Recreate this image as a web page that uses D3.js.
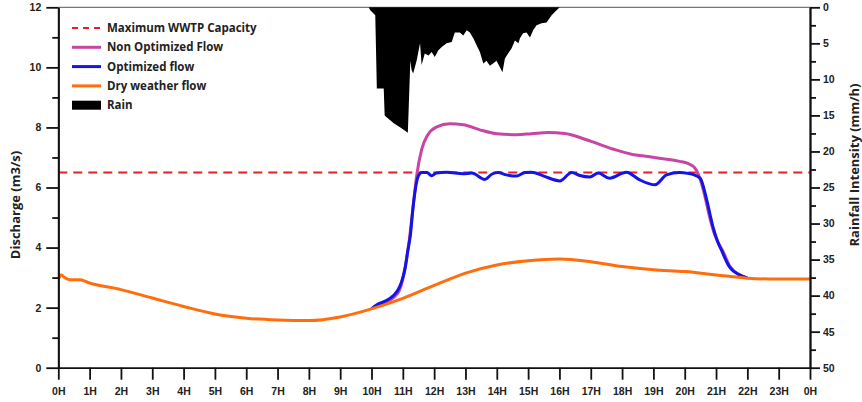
<!DOCTYPE html>
<html>
<head>
<meta charset="utf-8">
<script src="https://cdn.jsdelivr.net/npm/d3@7"></script>
<style>
  body { margin: 0; background: #fff; }
  .tick text { font-family: "Liberation Sans", Arial, sans-serif; font-weight: bold; font-size: 10.5px; fill: #222; }
  .axis path, .axis line { stroke: #111; stroke-width: 1.8px; }
  .title { font-family: "Open Sans", sans-serif; font-weight: bold; font-size: 13px; fill: #222; }
  .legend text { font-family: "Open Sans", sans-serif; font-weight: bold; font-size: 11.5px; fill: #222; }
</style>
</head>
<body>
<div id="chart"></div>
<script>
// Dry weather flow (m3/s) by hour
const dryHours = [0, 0.1, 0.2, 0.37, 0.69, 1, 2, 3, 4, 5, 6, 7, 8, 9, 10, 11, 12, 13, 14, 15, 16, 17, 18, 19, 20, 21, 22, 23, 24];
const dryFlow = [2.95, 3.09, 3.0, 2.93, 2.93, 2.82, 2.6, 2.32, 2.04, 1.79, 1.65, 1.59, 1.57, 1.69, 1.96, 2.31, 2.74, 3.15, 3.42, 3.56, 3.62, 3.53, 3.37, 3.26, 3.2, 3.09, 2.98, 2.95, 2.95];

// Optimized flow
const optHours = [10, 10.16, 10.4, 10.7, 10.9, 11.0, 11.07, 11.16, 11.24, 11.33, 11.49, 11.6, 11.77, 11.92, 12.07, 12.4, 12.93, 13.2, 13.62, 13.85, 14.04, 14.31, 14.63, 14.9, 15.11, 15.5, 16.01, 16.39, 16.65, 16.97, 17.24, 17.6, 18.14, 18.55, 19.05, 19.42, 19.84, 20.1, 20.3, 20.5, 20.7, 20.9, 21.05, 21.17, 21.42, 21.75, 22.0];
const optFlow = [1.96, 2.09, 2.2, 2.4, 2.7, 3.0, 3.3, 3.9, 4.4, 5.37, 6.37, 6.5, 6.5, 6.39, 6.48, 6.51, 6.46, 6.48, 6.27, 6.45, 6.5, 6.42, 6.38, 6.5, 6.51, 6.38, 6.22, 6.5, 6.4, 6.35, 6.48, 6.31, 6.51, 6.26, 6.09, 6.42, 6.5, 6.47, 6.42, 6.3, 5.6, 4.7, 4.2, 3.92, 3.37, 3.09, 2.99];

// Non optimized flow
const nonOptHours = [10, 10.16, 10.4, 10.7, 10.9, 11.0, 11.1, 11.2, 11.3, 11.45, 11.6, 11.8, 12.07, 12.5, 12.93, 13.46, 14.0, 14.63, 15.1, 15.64, 16.17, 16.7, 17.24, 17.77, 18.3, 18.83, 19.36, 19.84, 20.1, 20.3, 20.45, 20.6, 20.8, 20.95, 21.1, 21.2, 21.45, 21.75, 22.0];
const nonOptFlow = [1.96, 2.06, 2.16, 2.33, 2.6, 2.95, 3.5, 4.2, 5.1, 6.45, 7.26, 7.76, 8.01, 8.12, 8.09, 7.92, 7.79, 7.76, 7.79, 7.83, 7.8, 7.65, 7.45, 7.26, 7.11, 7.03, 6.95, 6.87, 6.8, 6.68, 6.4, 5.9, 5.0, 4.45, 4.1, 3.92, 3.37, 3.09, 2.99];

// Rainfall intensity (mm/h)
const rainHours = [9.91, 9.96, 10.12, 10.17, 10.39, 10.42, 10.52, 10.71, 10.97, 11.16, 11.24, 11.28, 11.33, 11.44, 11.55, 11.6, 11.7, 11.82, 11.92, 12.02, 12.13, 12.24, 12.4, 12.56, 12.66, 12.82, 12.93, 13.04, 13.14, 13.25, 13.36, 13.46, 13.57, 13.67, 13.78, 13.88, 13.99, 14.1, 14.18, 14.26, 14.36, 14.47, 14.58, 14.69, 14.74, 14.84, 14.95, 15.06, 15.16, 15.27, 15.43, 15.59, 15.75, 15.91, 16.01];
const rainValues = [0, 0.4, 1.1, 11.25, 11.25, 15.0, 15.4, 16.1, 16.8, 17.4, 7.4, 8.7, 9.2, 7.4, 5.0, 8.0, 6.4, 6.7, 6.2, 6.9, 6.0, 5.5, 5.0, 4.8, 3.5, 3.5, 3.9, 3.2, 3.5, 4.3, 5.3, 6.2, 7.8, 7.4, 8.1, 7.8, 7.4, 8.3, 9.0, 7.1, 6.4, 5.7, 4.6, 5.0, 4.3, 3.6, 3.5, 4.2, 3.2, 2.5, 2.2, 2.1, 1.1, 0.4, 0];

const wwtpCapacity = 6.5;

const hourTicks = d3.range(0, 25);
const flowTicks = [0, 2, 4, 6, 8, 10, 12];
const flowMinor = [1, 3, 5, 7, 9, 11];
const rainTicks = [0, 5, 10, 15, 20, 25, 30, 35, 40, 45, 50];
const rainMinor = [2.5, 7.5, 12.5, 17.5, 22.5, 27.5, 32.5, 37.5, 42.5, 47.5];

const W = 862, H = 402;
const plotLeft = 58.3, plotRight = 810, plotTop = 7.3, plotBottom = 367.7;

const svg = d3.select("#chart").append("svg")
    .attr("width", W)
    .attr("height", H);

const x = d3.scaleLinear().domain([0, 24]).range([plotLeft, plotRight]);
const y = d3.scaleLinear().domain([0, 12]).range([plotBottom, plotTop]);
const yR = d3.scaleLinear().domain([0, 50]).range([plotTop, plotBottom]);

const zip = (hs, vs) => hs.map((h, i) => ({ h: h, v: vs[i] }));

// top frame line
svg.append("line")
    .attr("x1", plotLeft).attr("x2", plotRight)
    .attr("y1", plotTop).attr("y2", plotTop)
    .attr("stroke", "#777").attr("stroke-width", 1.2);

// rain hanging from the top
const rainArea = d3.area()
    .x(d => x(d.h))
    .y0(yR(0))
    .y1(d => yR(d.v));
svg.append("path")
    .datum(zip(rainHours, rainValues))
    .attr("d", rainArea)
    .attr("fill", "#000");

// capacity line
svg.append("line")
    .attr("x1", x(0)).attr("x2", x(24))
    .attr("y1", y(wwtpCapacity)).attr("y2", y(wwtpCapacity))
    .attr("stroke", "#e41f26")
    .attr("stroke-width", 2.2)
    .attr("stroke-dasharray", "9,6");

const line = d3.line()
    .x(d => x(d.h))
    .y(d => y(d.v))
    .curve(d3.curveMonotoneX);

svg.append("path")
    .datum(zip(nonOptHours, nonOptFlow))
    .attr("d", line)
    .attr("fill", "none")
    .attr("stroke", "#c845a3")
    .attr("stroke-width", 3);

svg.append("path")
    .datum(zip(optHours, optFlow))
    .attr("d", line)
    .attr("fill", "none")
    .attr("stroke", "#1414e6")
    .attr("stroke-width", 3);

svg.append("path")
    .datum(zip(dryHours, dryFlow))
    .attr("d", line)
    .attr("fill", "none")
    .attr("stroke", "#ff6d0c")
    .attr("stroke-width", 3);

// axes
svg.append("g").attr("class", "axis")
    .attr("transform", `translate(${plotLeft},0)`)
    .call(d3.axisLeft(y).tickValues(flowTicks).tickSize(12).tickSizeOuter(0).tickPadding(5));
svg.append("g").attr("class", "axis")
    .attr("transform", `translate(${plotLeft},0)`)
    .call(d3.axisLeft(y).tickValues(flowMinor).tickSize(6).tickSizeOuter(0).tickFormat(""));

svg.append("g").attr("class", "axis")
    .attr("transform", `translate(${plotRight},0)`)
    .call(d3.axisRight(yR).tickValues(rainTicks).tickSize(10).tickSizeOuter(0).tickPadding(3));
svg.append("g").attr("class", "axis")
    .attr("transform", `translate(${plotRight},0)`)
    .call(d3.axisRight(yR).tickValues(rainMinor).tickSize(6).tickSizeOuter(0).tickFormat(""));

svg.append("g").attr("class", "axis")
    .attr("transform", `translate(0,${plotBottom})`)
    .call(d3.axisBottom(x).tickValues(hourTicks).tickSize(12).tickSizeOuter(0).tickPadding(8)
        .tickFormat(d => (d % 24) + "H"));

// axis titles
svg.append("text").attr("class", "title")
    .attr("transform", "translate(20,205) rotate(-90)")
    .attr("text-anchor", "middle")
    .text("Discharge (m3/s)");
svg.append("text").attr("class", "title")
    .attr("transform", "translate(859,165) rotate(-90)")
    .attr("text-anchor", "middle")
    .text("Rainfall Intensity (mm/h)");

// legend
const legendItems = [
    { label: "Maximum WWTP Capacity", color: "#e41f26", type: "dash" },
    { label: "Non Optimized Flow", color: "#c845a3", type: "line" },
    { label: "Optimized flow", color: "#1414e6", type: "line" },
    { label: "Dry weather flow", color: "#ff6d0c", type: "line" },
    { label: "Rain", color: "#000", type: "box" }
];
const legend = svg.append("g").attr("class", "legend");
legendItems.forEach((d, i) => {
    const ly = 28 + i * 19.3;
    if (d.type === "box") {
        legend.append("rect")
            .attr("x", 72).attr("y", ly - 4.5)
            .attr("width", 29).attr("height", 9)
            .attr("fill", d.color);
    } else {
        legend.append("line")
            .attr("x1", 72).attr("x2", 101)
            .attr("y1", ly).attr("y2", ly)
            .attr("stroke", d.color)
            .attr("stroke-width", d.type === "dash" ? 2.2 : 3)
            .attr("stroke-dasharray", d.type === "dash" ? "6,5" : null);
    }
    legend.append("text")
        .attr("x", 107).attr("y", ly)
        .attr("dy", "0.35em")
        .text(d.label);
});
</script>
</body>
</html>
